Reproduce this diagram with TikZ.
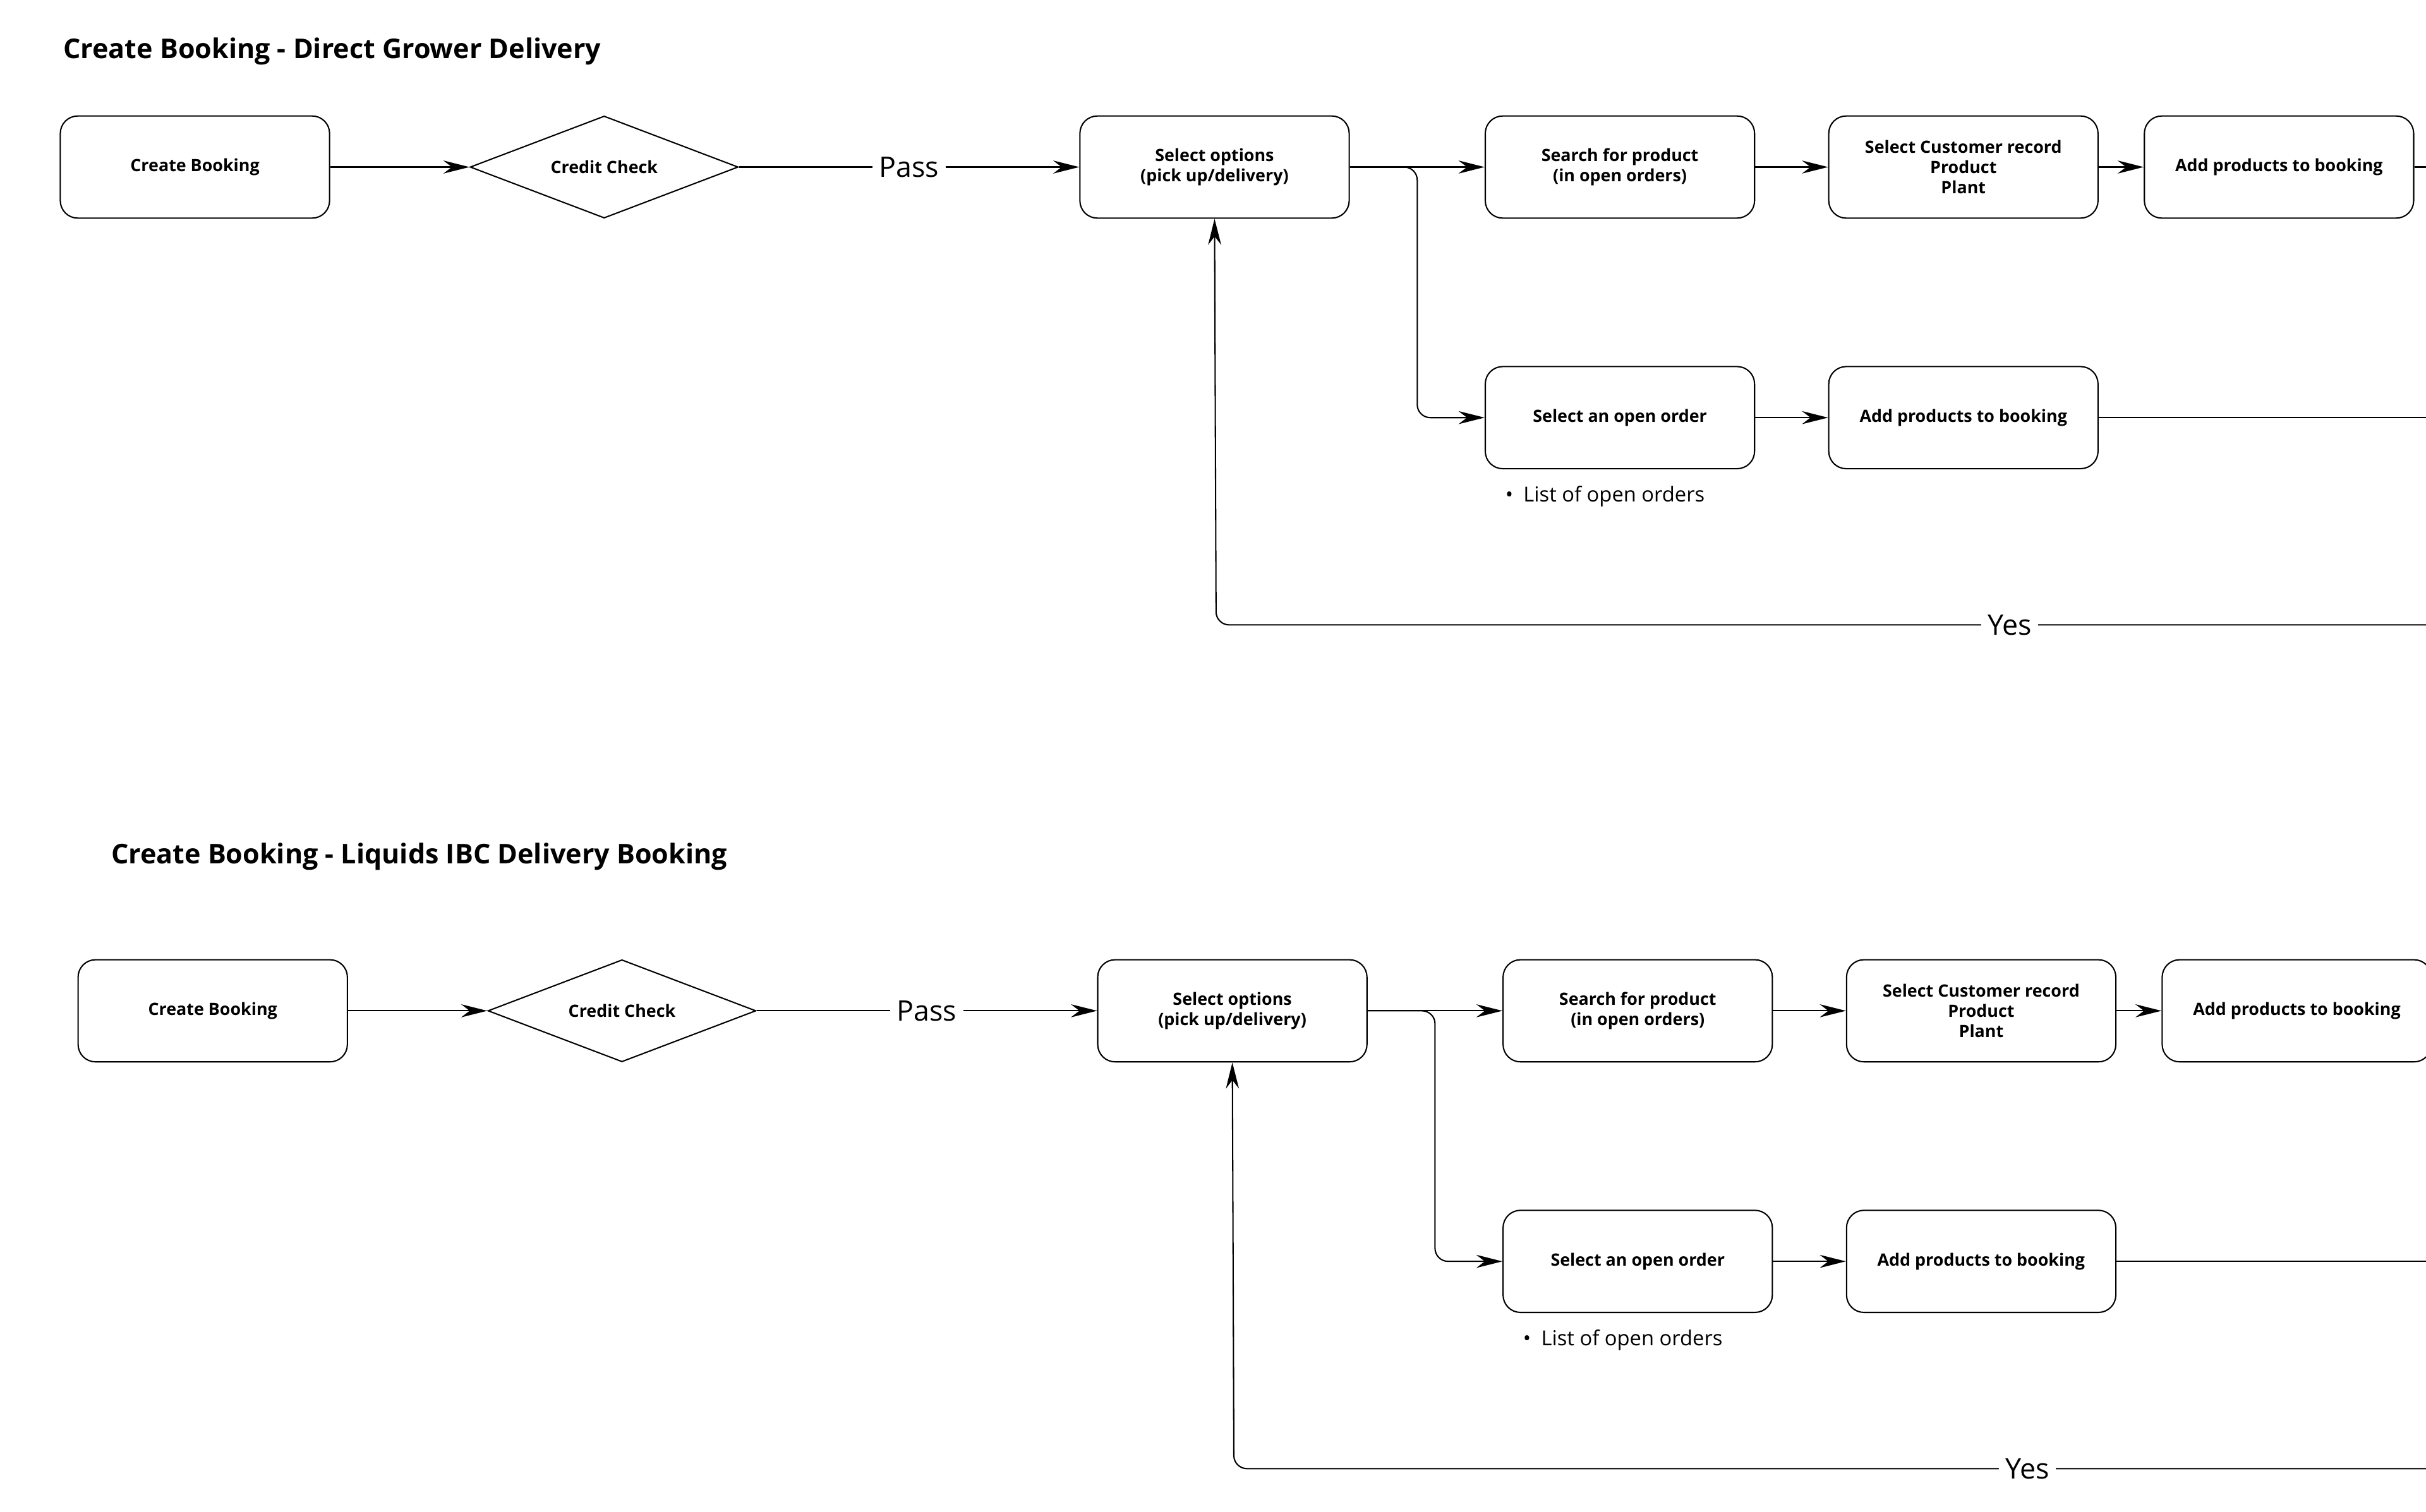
\documentclass[tikz,border=0pt]{standalone}
\usepackage{fontspec}
\setmainfont{Open Sans}
\usetikzlibrary{arrows.meta,shapes.geometric}
\begin{document}
\begin{tikzpicture}[x=0.025cm,y=-0.025cm,
  box/.style={draw,rounded corners=8pt,line width=0.6pt,minimum width=4.35cm,minimum height=1.65cm,align=center,font=\fontsize{7.8}{9.4}\selectfont\bfseries},
  dia/.style={draw,diamond,aspect=2.62,line width=0.6pt,minimum width=4.33cm,minimum height=1.65cm,inner sep=0pt,font=\fontsize{7.8}{9.4}\selectfont\bfseries},
  ar/.style={-{Stealth[length=12pt,width=6pt]},line width=0.6pt},
  ln/.style={line width=0.6pt},
  lab/.style={fill=white,font=\fontsize{13}{15}\selectfont,inner sep=3pt},
  ttl/.style={anchor=west,font=\fontsize{12.5}{15}\selectfont\bfseries}]
\useasboundingbox (0,0) rectangle (1568,977.5);
\newcommand\flow[3]{%
\begin{scope}[shift={(#2,#3)}]
\node[box] (#1cb) at (126,108) {Create Booking};
\node[dia] (#1cc) at (390.5,108) {Credit Check};
\node[box] (#1so) at (785,108) {Select options\\(pick up/delivery)};
\node[box] (#1sp) at (1047,108) {Search for product\\(in open orders)};
\node[box] (#1sc) at (1269,108) {Select Customer record\\Product\\Plant};
\node[box] (#1ap) at (1473,108) {Add products to booking};
\node[box] (#1oo) at (1047,270) {Select an open order};
\node[box] (#1ap2) at (1269,270) {Add products to booking};
\node[anchor=west,font=\fontsize{9.5}{11}\selectfont] (#1lo) at (968,321) {\textbullet\enspace List of open orders};
\coordinate (#1r1) at (1600,108);
\coordinate (#1r2) at (1600,270);
\coordinate (#1r3) at (1600,404);
\draw[ar] (#1cb) -- (#1cc);
\draw[ar] (#1cc) -- node[lab]{Pass} (#1so);
\draw[ar] (#1so) -- (#1sp);
\draw[ar] (#1sp) -- (#1sc);
\draw[ar] (#1sc) -- (#1ap);
\draw[ln] (#1ap) -- (#1r1);
\draw[ar,rounded corners=6pt] (#1so.east) -| (916,190) |- (#1oo.west);
\draw[ar] (#1oo) -- (#1ap2);
\draw[ln] (#1ap2) -- (#1r2);
\draw[ar,rounded corners=6pt] (#1r3) -- node[lab,pos=0.37]{Yes} (786,404) -- (#1so.south);
\end{scope}}
\flow{a}{0}{0}
\flow{b}{11.5}{545.5}
\node[ttl] (t1) at (36,33) {Create Booking - Direct Grower Delivery};
\node[ttl] (t2) at (67,554) {Create Booking - Liquids IBC Delivery Booking};
\end{tikzpicture}
\end{document}
